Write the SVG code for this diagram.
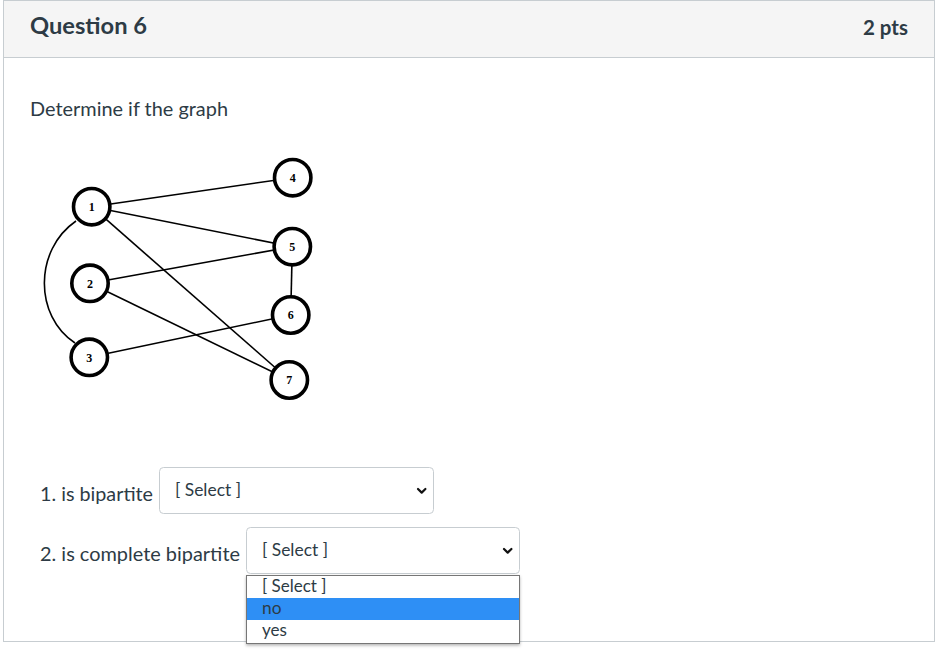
<svg xmlns="http://www.w3.org/2000/svg" width="942" height="652" viewBox="0 0 942 652">
<defs>
<style>
.t{font-family:Lato,"Liberation Sans",sans-serif;fill:#2d3b45}
.sel{fill:#fff;stroke:#c7cdd1;stroke-width:1}
.chev{fill:none;stroke:#111;stroke-width:2.2;stroke-linecap:round;stroke-linejoin:round}
.edge{fill:none;stroke:#000;stroke-width:1.6}
.node circle{fill:#fff;stroke:#000;stroke-width:3.6}
.node text{font-family:"Liberation Serif",serif;font-weight:bold;font-size:12px;fill:#000;text-anchor:middle}
</style>
<filter id="sh" x="-10%" y="-20%" width="120%" height="150%">
<feDropShadow dx="0" dy="1.5" stdDeviation="1.5" flood-color="#000" flood-opacity="0.3"/>
</filter>
</defs>
<rect width="942" height="652" fill="#fff"/>
<!-- card -->
<rect x="3.5" y="0.5" width="931" height="641" fill="#fff" stroke="#c7cdd1"/>
<rect x="4" y="1" width="930" height="56" fill="#f5f5f5"/>
<line x1="3.5" y1="57.5" x2="934.5" y2="57.5" stroke="#c7cdd1"/>
<text class="t" x="30" y="34" font-size="23" font-weight="bold" textLength="117" lengthAdjust="spacingAndGlyphs">Question 6</text>
<text class="t" x="863" y="35" font-size="20" font-weight="bold" fill="#3a4a55" textLength="45" lengthAdjust="spacingAndGlyphs">2 pts</text>
<text class="t" x="30" y="116" font-size="19" textLength="198" lengthAdjust="spacingAndGlyphs">Determine if the graph</text>

<!-- graph -->
<g id="connectors">
<line class="edge" x1="91.7" y1="206.7" x2="292.7" y2="177.7"/>
<line class="edge" x1="91.7" y1="206.7" x2="292.3" y2="246.7"/>
<line class="edge" x1="91.7" y1="206.7" x2="289.3" y2="380"/>
<line class="edge" x1="90" y1="283.3" x2="292.3" y2="246.7"/>
<line class="edge" x1="90" y1="283.3" x2="289.3" y2="380"/>
<line class="edge" x1="89.3" y1="357.3" x2="290.7" y2="315"/>
<line class="edge" x1="292.3" y1="246.7" x2="290.7" y2="315"/>
<path class="edge" d="M76,221 C34,250 34,316 75,343"/>
</g>
<g id="node1" class="node"><circle cx="91.7" cy="206.7" r="18.2"/><text x="91.7" y="211">1</text></g>
<g id="node2" class="node"><circle cx="90" cy="283.3" r="18.2"/><text x="90" y="287.6">2</text></g>
<g id="node3" class="node"><circle cx="89.3" cy="357.3" r="18.2"/><text x="89.3" y="361.6">3</text></g>
<g id="node4" class="node"><circle cx="292.7" cy="177.7" r="18.2"/><text x="292.7" y="182">4</text></g>
<g id="node5" class="node"><circle cx="292.3" cy="246.7" r="18.2"/><text x="292.3" y="251">5</text></g>
<g id="node6" class="node"><circle cx="290.7" cy="315" r="18.2"/><text x="290.7" y="319.3">6</text></g>
<g id="node7" class="node"><circle cx="289.3" cy="380" r="18.2"/><text x="289.3" y="384.3">7</text></g>

<!-- questions -->
<text class="t" x="40" y="501" font-size="19" textLength="113" lengthAdjust="spacingAndGlyphs">1. is bipartite</text>
<rect class="sel" x="159.5" y="467.5" width="274" height="46" rx="4"/>
<text class="t" x="175" y="496" font-size="17" textLength="66" lengthAdjust="spacingAndGlyphs">[ Select ]</text>
<path class="chev" d="M418,489 L421.7,492.6 L425.4,489"/>

<text class="t" x="40" y="561" font-size="19" textLength="200" lengthAdjust="spacingAndGlyphs">2. is complete bipartite</text>
<rect class="sel" x="246.5" y="527.5" width="273" height="46" rx="4"/>
<text class="t" x="262" y="556" font-size="17" textLength="66" lengthAdjust="spacingAndGlyphs">[ Select ]</text>
<path class="chev" d="M504,549 L507.7,552.6 L511.4,549"/>

<!-- dropdown list -->
<g id="dropdown">
<rect x="246.5" y="575.5" width="273" height="68" fill="#fff" stroke="#767676" filter="url(#sh)"/>
<rect x="247" y="598" width="272" height="22" fill="#2e8ff5"/>
<text class="t" x="262" y="592" font-size="17" fill="#222" textLength="64.5" lengthAdjust="spacingAndGlyphs">[ Select ]</text>
<text class="t" x="262" y="614" font-size="17" fill="#fff" textLength="19.5" lengthAdjust="spacingAndGlyphs">no</text>
<text class="t" x="262" y="636" font-size="17" fill="#222" textLength="25" lengthAdjust="spacingAndGlyphs">yes</text>
</g>
</svg>
